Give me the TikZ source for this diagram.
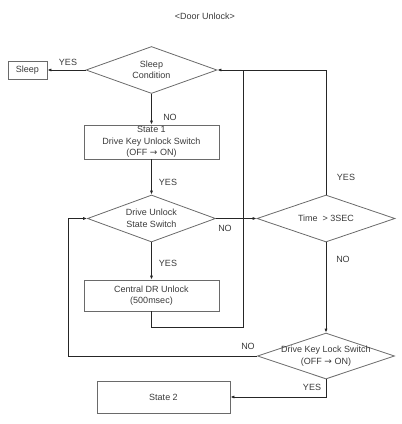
\documentclass[tikz,border=0pt]{standalone}
\usepackage{fontspec}
\setmainfont{Liberation Sans}
\newfontfamily\arrowfont{DejaVu Sans}
\usetikzlibrary{shapes.geometric,arrows.meta}
\definecolor{txt}{HTML}{3A3A3A}
\definecolor{edge}{HTML}{6A6A6A}
\begin{document}
\begin{tikzpicture}[x=1pt,y=-1pt,
  font=\fontsize{9}{11.5}\selectfont, text=txt,
  boxnode/.style={draw=edge, line width=0.8pt, rectangle, inner sep=0pt, align=center},
  dia/.style={draw=edge, line width=0.8pt, diamond, inner sep=0pt},
  lbl/.style={align=center, inner sep=0pt},
  conn/.style={draw=black!85, line width=0.9pt},
  arr/.style={conn, -{Latex[length=4pt,width=3.2pt]}}]
\useasboundingbox (0,0) rectangle (402,424);
\node[lbl] (title) at (205,16) {<Door Unlock>};

\node[boxnode, minimum width=39pt, minimum height=18pt] (sleep) at (27.5,70) {Sleep};
\node[dia, minimum width=131pt, minimum height=47pt] (sc) at (151.5,70) {};
\node[lbl] (sct) at (sc.center) {Sleep\\Condition};

\node[boxnode, minimum width=135pt, minimum height=34pt] (s1) at (151.5,142) {State 1\\Drive Key Unlock Switch\\(OFF {\arrowfont →} ON)};

\node[dia, minimum width=128pt, minimum height=47pt] (du) at (151.5,218.5) {};
\node[lbl] (dut) at (du.center) {Drive Unlock\\State Switch};

\node[dia, minimum width=138pt, minimum height=47pt] (tm) at (326,218.5) {};
\node[lbl] (tmt) at (tm.center) {Time \ > 3SEC};

\node[boxnode, minimum width=135pt, minimum height=31pt] (cdr) at (151.5,295.5) {Central DR Unlock\\(500msec)};

\node[dia, minimum width=137pt, minimum height=46pt] (dkl) at (326,356) {};
\node[lbl] (dklt) at (dkl.center) {Drive Key Lock Switch\\(OFF {\arrowfont →} ON)};

\node[boxnode, minimum width=133pt, minimum height=32pt] (s2) at (163.5,397) {State 2};

% connectors
\draw[arr] (sc.west) -- (sleep.east);
\node[lbl] (l1) at (68,62) {YES};
\draw[arr] (sc.south) -- (s1.north);
\node[lbl] (l2) at (170,117) {NO};
\draw[arr] (s1.south) -- (du.north);
\node[lbl] (l3) at (168,182) {YES};
\draw[arr] (du.east) -- (tm.west);
\node[lbl] (l4) at (225,228) {NO};
\draw[arr] (tm.north) |- (sc.east);
\node[lbl] (l5) at (346,177) {YES};
\draw[arr] (du.south) -- (cdr.north);
\node[lbl] (l6) at (168,263) {YES};
\coordinate (c1) at (243,327);
\coordinate (c2) at (243,70);
\draw[conn] (cdr.south) |- (c1) -- (c2);
\draw[arr] (tm.south) -- (dkl.north);
\node[lbl] (l7) at (343,259) {NO};
\coordinate (c3) at (68,356);
\draw[arr] (dkl.west) -- (c3) |- (du.west);
\node[lbl] (l8) at (248,346) {NO};
\draw[arr] (dkl.south) |- (s2.east);
\node[lbl] (l9) at (312,387) {YES};
\end{tikzpicture}
\end{document}
